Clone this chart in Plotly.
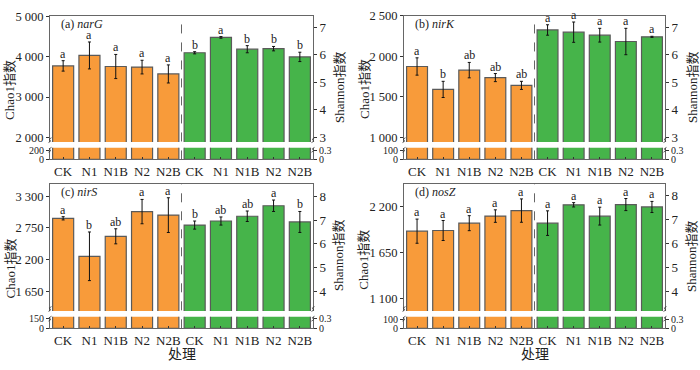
import plotly.graph_objects as go

W, H = 700, 370
treatments = ["CK", "N1", "N1B", "N2", "N2B"]
tick_labels = treatments + treatments

# Panel data: Chao1 (left axis, orange) and Shannon (right axis, green)
genes = ["narG", "nirK", "nirS", "nosZ"]
panel_tags = ["(a)", "(b)", "(c)", "(d)"]

chao1_narG = [3775, 4035, 3760, 3745, 3575]
chao1_narG_err = [130, 335, 300, 170, 225]
shannon_narG = [6.07, 6.63, 6.20, 6.22, 5.92]
shannon_narG_err = [0.04, 0.03, 0.13, 0.08, 0.17]
chao1_narG_sig = ["a", "a", "a", "a", "a"]
shannon_narG_sig = ["b", "a", "b", "b", "b"]

chao1_nirK = [1873, 1590, 1828, 1736, 1640]
chao1_nirK_err = [107, 100, 95, 50, 50]
shannon_nirK = [6.90, 6.82, 6.71, 6.48, 6.65]
shannon_nirK_err = [0.19, 0.37, 0.25, 0.48, 0.02]
chao1_nirK_sig = ["a", "b", "ab", "ab", "ab"]
shannon_nirK_sig = ["a", "a", "a", "a", "a"]

chao1_nirS = [2917, 2261, 2606, 3033, 2972]
chao1_nirS_err = [28, 420, 130, 210, 300]
shannon_nirS = [6.79, 6.96, 7.16, 7.60, 6.92]
shannon_nirS_err = [0.17, 0.17, 0.22, 0.24, 0.44]
chao1_nirS_sig = ["a", "b", "ab", "a", "a"]
shannon_nirS_sig = ["b", "ab", "ab", "a", "b"]

chao1_nosZ = [1907, 1915, 2003, 2088, 2154]
chao1_nosZ_err = [145, 120, 90, 75, 140]
shannon_nosZ = [6.84, 7.60, 7.13, 7.61, 7.51]
shannon_nosZ_err = [0.51, 0.09, 0.37, 0.25, 0.23]
chao1_nosZ_sig = ["a", "a", "a", "a", "a"]
shannon_nosZ_sig = ["a", "a", "a", "a", "a"]

# Axis ticks
left_ticks_upper = [[2000, 3000, 4000, 5000], [1000, 1500, 2000, 2500],
                    [1650, 2200, 2750, 3300], [1100, 1650, 2200]]
right_ticks_upper = [[3, 4, 5, 6, 7], [3, 4, 5, 6, 7], [4, 5, 6, 7, 8], [4, 5, 6, 7, 8]]
left_ticks_lower = [[0, 200], [0, 100], [0, 150], [0, 100]]
right_ticks_lower = [0, 0.3]

chao1 = [chao1_narG, chao1_nirK, chao1_nirS, chao1_nosZ]
chao1_err = [chao1_narG_err, chao1_nirK_err, chao1_nirS_err, chao1_nosZ_err]
shannon = [shannon_narG, shannon_nirK, shannon_nirS, shannon_nosZ]
shannon_err = [shannon_narG_err, shannon_nirK_err, shannon_nirS_err, shannon_nosZ_err]
chao1_sig = [chao1_narG_sig, chao1_nirK_sig, chao1_nirS_sig, chao1_nosZ_sig]
shannon_sig = [shannon_narG_sig, shannon_nirK_sig, shannon_nirS_sig, shannon_nosZ_sig]

# Layout geometry (pixels)
xpx = [(50, 313), (404, 665), (50, 313), (404, 665)]
upper_px = [(9, 140), (9, 140), (183, 315), (183, 315)]
lower_px = [(146, 158), (146, 158), (321, 333), (321, 333)]
left_range_upper = [(1880, 5024), (940, 2500), (1317, 3517), (950, 2478)]
right_range_upper = [(2.82, 7.42), (2.82, 7.42), (3.19, 8.53), (3.2, 8.48)]
left_range_lower = [(0, 267), (0, 133), (0, 180), (0, 133)]
right_range_lower = [(0, 0.40), (0, 0.40), (0, 0.36), (0, 0.40)]
chao_title_px = [(10, 86), (364, 85), (10, 271), (364, 262)]
shannon_title_px = [(339, 83), (692, 83), (339, 257), (692, 258)]

ORANGE = "#F89B3A"
GREEN = "#46B44A"
EDGE = "#5a5a5a"
FRAME = "#666666"
FONT = "Liberation Serif, Times New Roman, Noto Sans CJK SC, serif"
CJK = "Liberation Serif, Noto Sans CJK SC, serif"


def xp(px):
    return px / W


def yp(py):
    return 1 - py / H


def ref(prefix, n):
    return prefix if n == 1 else f"{prefix}{n}"


fig = go.Figure()
layout = dict(
    width=W, height=H, margin=dict(l=0, r=0, t=0, b=0),
    paper_bgcolor="white", plot_bgcolor="rgba(0,0,0,0)",
    showlegend=False, barmode="overlay",
    font=dict(family=FONT, size=12, color="#222"),
)
annotations = []
shapes = []

xs_left = list(range(5))
xs_right = list(range(5, 10))

for p in range(4):
    xu, xl = 2 * p + 1, 2 * p + 2
    yuL, yuR, ylL, ylR = 4 * p + 1, 4 * p + 2, 4 * p + 3, 4 * p + 4
    xdom = [xp(xpx[p][0]), xp(xpx[p][1])]
    udom = [yp(upper_px[p][1]), yp(upper_px[p][0])]
    ldom = [yp(lower_px[p][1]), yp(lower_px[p][0])]

    bar_common = dict(width=0.8, marker_line=dict(color=EDGE, width=1.2), hoverinfo="skip")
    err_style = dict(type="data", thickness=1, width=1.5, color="#111")

    fig.add_trace(go.Bar(x=xs_left, y=chao1[p], marker_color=ORANGE,
                         error_y=dict(array=chao1_err[p], **err_style),
                         xaxis=ref("x", xu), yaxis=ref("y", yuL), **bar_common))
    fig.add_trace(go.Bar(x=xs_right, y=shannon[p], marker_color=GREEN,
                         error_y=dict(array=shannon_err[p], **err_style),
                         xaxis=ref("x", xu), yaxis=ref("y", yuR), **bar_common))
    fig.add_trace(go.Bar(x=xs_left, y=chao1[p], marker_color=ORANGE,
                         xaxis=ref("x", xl), yaxis=ref("y", ylL), **bar_common))
    fig.add_trace(go.Bar(x=xs_right, y=shannon[p], marker_color=GREEN,
                         xaxis=ref("x", xl), yaxis=ref("y", ylR), **bar_common))

    axis_font = dict(family=FONT, size=13, color="#222")
    left_font = dict(family=FONT, size=12.5, color="#222")
    small_font = dict(family=FONT, size=10, color="#222")
    layout[f"xaxis{xu}"] = dict(domain=xdom, range=[-0.5, 9.5], anchor=ref("y", yuL),
                                side="top", showline=True, linecolor=FRAME, linewidth=1,
                                showticklabels=False, ticks="", showgrid=False, zeroline=False)
    layout[f"xaxis{xl}"] = dict(domain=xdom, range=[-0.5, 9.5], anchor=ref("y", ylL),
                                showline=True, linecolor=FRAME, linewidth=1,
                                tickvals=list(range(10)), ticktext=tick_labels,
                                ticks="inside", ticklen=2, tickcolor="#333",
                                tickfont=axis_font, showgrid=False, zeroline=False)
    lt = left_ticks_upper[p]
    layout[f"yaxis{yuL}"] = dict(domain=udom, range=list(left_range_upper[p]), anchor=ref("x", xu),
                                 tickvals=lt, ticktext=[f"{v:,}".replace(",", " ") for v in lt],
                                 showline=True, linecolor=FRAME, linewidth=1, ticks="outside",
                                 ticklen=3, tickcolor="#333", tickfont=left_font,
                                 showgrid=False, zeroline=False)
    layout[f"yaxis{yuR}"] = dict(domain=udom, range=list(right_range_upper[p]), anchor=ref("x", xu),
                                 overlaying=ref("y", yuL), side="right",
                                 tickvals=right_ticks_upper[p],
                                 showline=True, linecolor=FRAME, linewidth=1, ticks="outside",
                                 ticklen=3, tickcolor="#333", tickfont=axis_font,
                                 showgrid=False, zeroline=False)
    ll = left_ticks_lower[p]
    layout[f"yaxis{ylL}"] = dict(domain=ldom, range=list(left_range_lower[p]), anchor=ref("x", xl),
                                 tickvals=ll, ticktext=[str(v) for v in ll],
                                 showline=True, linecolor=FRAME, linewidth=1, ticks="outside",
                                 ticklen=3, tickcolor="#333", tickfont=small_font,
                                 showgrid=False, zeroline=False)
    layout[f"yaxis{ylR}"] = dict(domain=ldom, range=list(right_range_lower[p]), anchor=ref("x", xl),
                                 overlaying=ref("y", ylL), side="right",
                                 tickvals=right_ticks_lower, ticktext=["0", "0.3"],
                                 showline=True, linecolor=FRAME, linewidth=1, ticks="outside",
                                 ticklen=3, tickcolor="#333", tickfont=small_font,
                                 showgrid=False, zeroline=False)

    for i in range(5):
        annotations.append(dict(x=xs_left[i], y=chao1[p][i] + chao1_err[p][i],
                                xref=ref("x", xu), yref=ref("y", yuL), text=chao1_sig[p][i],
                                showarrow=False, yanchor="bottom", yshift=-1, borderpad=0,
                                font=dict(family=FONT, size=12, color="#222")))
        annotations.append(dict(x=xs_right[i], y=shannon[p][i] + shannon_err[p][i],
                                xref=ref("x", xu), yref=ref("y", yuR), text=shannon_sig[p][i],
                                showarrow=False, yanchor="bottom", yshift=-1, borderpad=0,
                                font=dict(family=FONT, size=12, color="#222")))

    annotations.append(dict(x=xp(xpx[p][0] + 10), y=yp(upper_px[p][0] + 9), xref="paper",
                            yref="paper", xanchor="left", yanchor="middle", showarrow=False,
                            borderpad=0, text=f"{panel_tags[p]} <i>{genes[p]}</i>",
                            font=dict(family=FONT, size=12, color="#222")))

    cx, cy = chao_title_px[p]
    annotations.append(dict(x=xp(cx), y=yp(cy), xref="paper", yref="paper",
                            xanchor="center", yanchor="middle",
                            text="Chao1指数", textangle=-90, showarrow=False,
                            font=dict(family=CJK, size=13, color="#222")))
    sx, sy = shannon_title_px[p]
    annotations.append(dict(x=xp(sx), y=yp(sy), xref="paper", yref="paper",
                            xanchor="center", yanchor="middle",
                            text="Shannon指数", textangle=-90, showarrow=False,
                            font=dict(family=CJK, size=13, color="#222")))

    shapes.append(dict(type="line", xref=ref("x", xu), yref="paper", x0=4.5, x1=4.5,
                       y0=yp(lower_px[p][1]), y1=yp(upper_px[p][0]),
                       line=dict(color="#666", width=1, dash="dash")))

    for xb in (xpx[p][0], xpx[p][1]):
        for yb in (upper_px[p][1] - 2, lower_px[p][0] + 2):
            x0, y0 = xb - 1.5, yb + 2.5
            x1, y1 = xb + 1.5, yb - 2.5
            shapes.append(dict(type="path", xref="paper", yref="paper",
                               path=f"M {xp(x0)} {yp(y0)} Q {xp(xb + 2)} {yp(yb + 1)} {xp(xb)} {yp(yb)} T {xp(x1)} {yp(y1)}",
                               line=dict(color="#333", width=0.8)))

for xc in ((50 + 313) / 2, (404 + 665) / 2):
    annotations.append(dict(x=xp(xc), y=yp(360), xref="paper", yref="paper", text="处理",
                            xanchor="center", yanchor="middle",
                            showarrow=False, font=dict(family=CJK, size=14, color="#222")))

layout["annotations"] = annotations
layout["shapes"] = shapes
fig.update_layout(**layout)
fig.write_html("out.html", config={"displayModeBar": False},
               post_script="document.body.style.margin='0';document.body.style.overflow='hidden';")
